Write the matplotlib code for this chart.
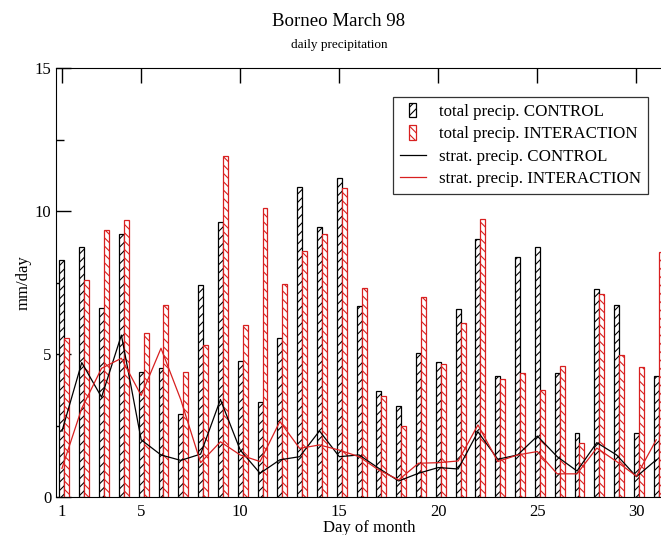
import numpy as np
import matplotlib
matplotlib.use("Agg")
import matplotlib.pyplot as plt
import matplotlib.patches as mpatches
from matplotlib.lines import Line2D
from matplotlib.legend_handler import HandlerPatch

plt.rcParams['font.family'] = ['Liberation Serif', 'DejaVu Serif']
plt.rcParams['hatch.linewidth'] = 0.8

days = list(range(1, 32))

# total precipitation (bars)
total_control = [8.27, 8.73, 6.62, 9.20, 4.37, 4.52, 2.90, 7.40, 9.60, 4.77,
                 3.33, 5.57, 10.85, 9.44, 11.17, 6.69, 3.70, 3.18, 5.05, 4.72,
                 6.57, 9.02, 4.24, 8.38, 8.73, 4.35, 2.23, 7.29, 6.73, 2.23, 4.24]
total_interaction = [5.57, 7.60, 9.32, 9.68, 5.75, 6.73, 4.37, 5.30, 11.93, 6.03,
                     10.10, 7.44, 8.60, 9.20, 10.82, 7.32, 3.54, 2.49, 7.00, 4.64,
                     6.10, 9.72, 4.14, 4.35, 3.74, 4.59, 1.88, 7.09, 4.95, 4.56, 8.55]

# stratiform precipitation (lines)
strat_control = [2.30, 4.70, 3.49, 5.66, 2.00, 1.47, 1.28, 1.50, 3.41, 1.64,
                 0.83, 1.30, 1.41, 2.31, 1.41, 1.47, 1.00, 0.56, 0.83, 1.03,
                 0.98, 2.28, 1.32, 1.47, 2.13, 1.41, 0.91, 1.90, 1.47, 0.71, 1.30]
strat_interaction = [1.00, 3.10, 4.50, 4.85, 3.55, 5.20, 3.40, 1.20, 1.93, 1.47,
                     1.24, 2.64, 1.70, 1.82, 1.64, 1.41, 0.94, 0.60, 1.18, 1.20,
                     1.26, 2.52, 1.24, 1.47, 1.59, 0.81, 0.81, 1.71, 1.24, 0.73, 2.00]

red = '#d82020'
x = np.array(days)
w = 0.25

fig = plt.figure(figsize=(6.61, 5.35), dpi=100)
ax = fig.add_axes([56 / 661, 38 / 535, 626 / 661, 429 / 535])

ax.bar(x, total_control, width=w, facecolor='white', edgecolor='black',
       hatch='////', linewidth=0.9, zorder=2)
ax.bar(x + w, total_interaction, width=w, facecolor='white', edgecolor=red,
       hatch='\\\\\\\\', linewidth=0.9, zorder=2)
ax.plot(x, strat_control, color='black', linewidth=0.9, zorder=3)
ax.plot(x, strat_interaction, color=red, linewidth=0.9, zorder=3)

ax.set_xlim(0.7, 32.3)
ax.set_ylim(0, 15)
ax.set_xticks([1, 5, 10, 15, 20, 25, 30])
ax.set_yticks([0, 5, 10, 15])
ax.set_yticks([2.5, 7.5, 12.5], minor=True)
ax.tick_params(which='both', direction='in', top=True, right=True, labelsize=12)
ax.tick_params(which='major', length=11, width=1)
ax.tick_params(which='minor', length=6, width=1)
ax.tick_params(axis='x', pad=5)
ax.set_xlabel('Day of month', fontsize=12, labelpad=0)
ax.set_ylabel('mm/day', fontsize=12, labelpad=2)

fig.text(339 / 661, 1 - 21 / 535, 'Borneo March 98', ha='center', va='center', fontsize=13.6)
fig.text(339 / 661, 1 - 45 / 535, 'daily precipitation', ha='center', va='center', fontsize=9.5)


def narrow_bar(legend, orig_handle, xdescent, ydescent, width, height, fontsize):
    bw = 5
    return mpatches.Rectangle((width / 2 - bw / 2 - xdescent, -ydescent - 1), bw, height + 2)


handles = [
    mpatches.Patch(facecolor='white', edgecolor='black', hatch='////', linewidth=0.9),
    mpatches.Patch(facecolor='white', edgecolor=red, hatch='\\\\\\\\', linewidth=0.9),
    Line2D([], [], color='black', linewidth=0.9),
    Line2D([], [], color=red, linewidth=0.9),
]
labels = ['total precip. CONTROL', 'total precip. INTERACTION',
          'strat. precip. CONTROL', 'strat. precip. INTERACTION']
leg = fig.legend(handles, labels, loc='upper right', bbox_to_anchor=(648 / 661, 1 - 97 / 535),
                 fontsize=12.2, frameon=True, fancybox=False, edgecolor='black',
                 handlelength=1.5, handletextpad=0.8, labelspacing=0.38,
                 borderpad=0.4, borderaxespad=0,
                 handler_map={mpatches.Patch: HandlerPatch(patch_func=narrow_bar)})
leg.get_frame().set_linewidth(0.9)

fig.savefig('out.png', dpi=100)
